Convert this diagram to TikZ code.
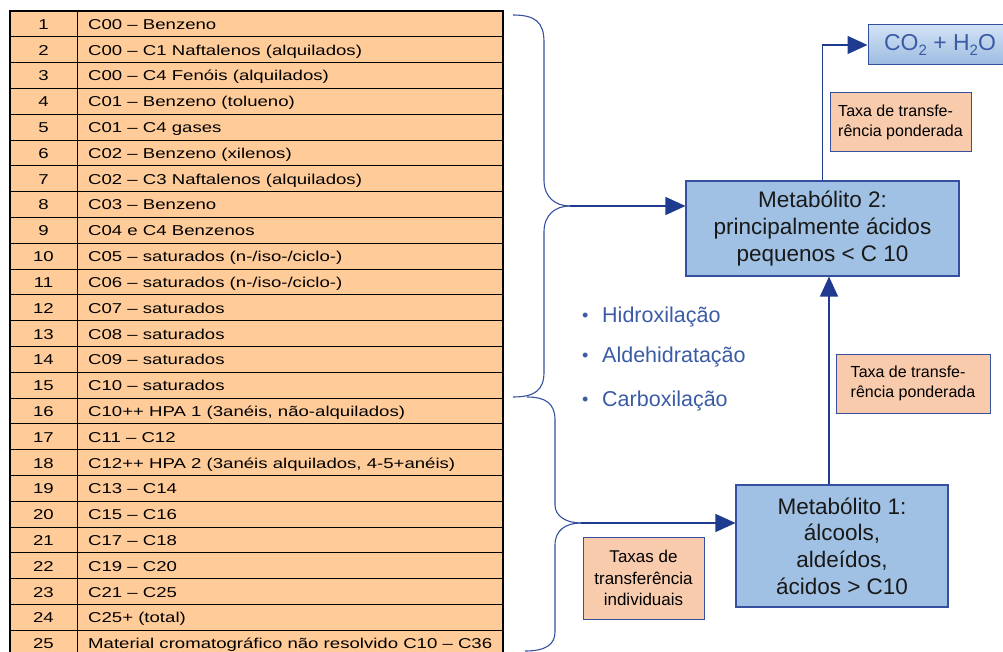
\documentclass[tikz,border=0pt]{standalone}
\usepackage{fontspec}
\setmainfont{Liberation Sans}
\newfontfamily\tablefont[FakeStretch=1.3]{Liberation Sans}
\usepackage{tikz}
\usetikzlibrary{
  arrows.meta,
  positioning,
  calc
}
\definecolor{rowcolor}{HTML}{FFCC99}
\definecolor{ratecolor}{HTML}{F8CBAD}
\definecolor{metacolor}{HTML}{A0C1E3}
\definecolor{edgecolor}{HTML}{34509E}
\definecolor{flowcolor}{HTML}{1F3B8F}
\definecolor{stepcolor}{HTML}{3B5BA5}
\definecolor{gastop}{HTML}{D2E2F5}
\definecolor{gasbottom}{HTML}{9CBCE0}
\newcommand{\bulletmark}{\makebox[20pt][l]{\raisebox{0.5pt}{\fontsize{18}{18}\selectfont\textbullet}}}
\newcommand{\lowtwo}{\raisebox{-4.5pt}{\fontsize{15}{15}\selectfont 2}}

\begin{document}
\begin{tikzpicture}[
  x=1pt, y=-1pt,
  cell/.style={draw=black, line width=0.9pt, fill=rowcolor},
  celltext/.style={inner sep=0pt, font=\tablefont\fontsize{14.3}{16}\selectfont},
  metab/.style={draw=edgecolor, line width=1.1pt, fill=metacolor,
                align=center, inner sep=2pt, text=black!90,
                font=\fontsize{22.5}{26.6}\selectfont},
  rate/.style={draw=edgecolor, line width=1pt, fill=ratecolor,
               inner sep=0pt, font=\fontsize{16}{20.7}\selectfont},
  gasbox/.style={draw=edgecolor, line width=1pt, top color=gastop,
                 bottom color=gasbottom, text=stepcolor,
                 font=\fontsize{23}{26}\selectfont},
  stepitem/.style={anchor=base west, inner sep=0pt, text=stepcolor,
                   font=\fontsize{21.5}{24}\selectfont},
  brace/.style={draw=edgecolor, line width=1.1pt},
  arrow/.style={-{Triangle[length=20pt, width=18pt]}, line width=1.4pt, flowcolor},
]
  \useasboundingbox (0,0) rectangle (1003,652);

  % Table of hydrocarbon groups
  \foreach \k/\desc in {1/C00 – Benzeno, 2/C00 – C1 Naftalenos (alquilados),
      3/C00 – C4 Fenóis (alquilados), 4/C01 – Benzeno (tolueno),
      5/C01 – C4 gases, 6/C02 – Benzeno (xilenos),
      7/C02 – C3 Naftalenos (alquilados), 8/C03 – Benzeno,
      9/C04 e C4 Benzenos, 10/{C05 – saturados (n-/iso-/ciclo-)},
      11/{C06 – saturados (n-/iso-/ciclo-)}, 12/C07 – saturados,
      13/C08 – saturados, 14/C09 – saturados, 15/C10 – saturados,
      16/{C10++ HPA 1 (3anéis, não-alquilados)}, 17/C11 – C12,
      18/{C12++ HPA 2 (3anéis alquilados, 4-5+anéis)}, 19/C13 – C14,
      20/C15 – C16, 21/C17 – C18, 22/C19 – C20, 23/C21 – C25,
      24/C25+ (total), 25/Material cromatográfico não resolvido C10 – C36} {
    \draw[cell] (10, {11+(\k-1)*25.8}) rectangle (77, {11+\k*25.8});
    \draw[cell] (77, {11+(\k-1)*25.8}) rectangle (503, {11+\k*25.8});
    \node[celltext, anchor=base] (num\k) at (43.5, {11+(\k-0.5)*25.8+5.5}) {\k};
    \node[celltext, anchor=base west] (row\k) at (88, {11+(\k-0.5)*25.8+5.5}) {\desc};
  }
  \draw[line width=1.3pt] (10,11) rectangle (503,656);

  % Braces
  \coordinate (cusp1) at (570,206);
  \coordinate (cusp2) at (581,523);
  \draw[brace] (513,15) .. controls (535,15) and (544,22) .. (544,42) -- (544,180)
    .. controls (544,197) and (555,206) .. (cusp1);
  \draw[brace] (cusp1) .. controls (555,206) and (544,215) .. (544,232) -- (544,372)
    .. controls (544,390) and (535,397) .. (513,397);
  \draw[brace] (527,397) .. controls (545,397) and (555,403) .. (555,420) -- (555,505)
    .. controls (555,516) and (566,523) .. (cusp2);
  \draw[brace] (cusp2) .. controls (566,523) and (555,530) .. (555,545) -- (555,632)
    .. controls (555,645) and (545,651) .. (525,651);

  % Metabolites
  \node[metab, minimum width=273pt, minimum height=95pt] (m2) at (822.5,228.5)
    {Metabólito 2:\\principalmente ácidos\\pequenos < C 10};
  \node[metab, minimum width=212pt, minimum height=122pt] (m1) at (842,546)
    {Metabólito 1:\\álcools,\\aldeídos,\\ácidos > C10};
  \node[gasbox, minimum width=144pt, minimum height=40pt] (gas) at (940,45)
    {CO\lowtwo{} + H\lowtwo O};

  % Transfer rates
  \node[rate, align=left, minimum width=141pt, minimum height=59pt] (rate2) at (900.5,122.5)
    {Taxa de transfe-\\rência ponderada};
  \node[rate, align=left, minimum width=154pt, minimum height=59pt] (rate1) at (913,383.5)
    {Taxa de transfe-\\rência ponderada};
  \node[rate, align=center, minimum width=121pt, minimum height=82pt,
        font=\fontsize{17}{21.7}\selectfont] (rate0) at (643.5,578)
    {Taxas de\\transferência\\individuais};

  % Reactions
  \node[stepitem] (hydrox) at (582,322) {\bulletmark Hidroxilação};
  \node[stepitem] (aldeh) at (582,362) {\bulletmark Aldehidratação};
  \node[stepitem] (carbox) at (582,406) {\bulletmark Carboxilação};

  % Flows
  \draw[arrow] (cusp1) -- (cusp1 -| m2.west);
  \draw[arrow] (cusp2) -- (cusp2 -| m1.west);
  \draw[arrow] (m2.north) |- (gas.west);
  \coordinate (m1top) at ([xshift=-13pt]m1.north);
  \draw[arrow] (m1top) -- (m1top |- m2.south);

\end{tikzpicture}
\end{document}
